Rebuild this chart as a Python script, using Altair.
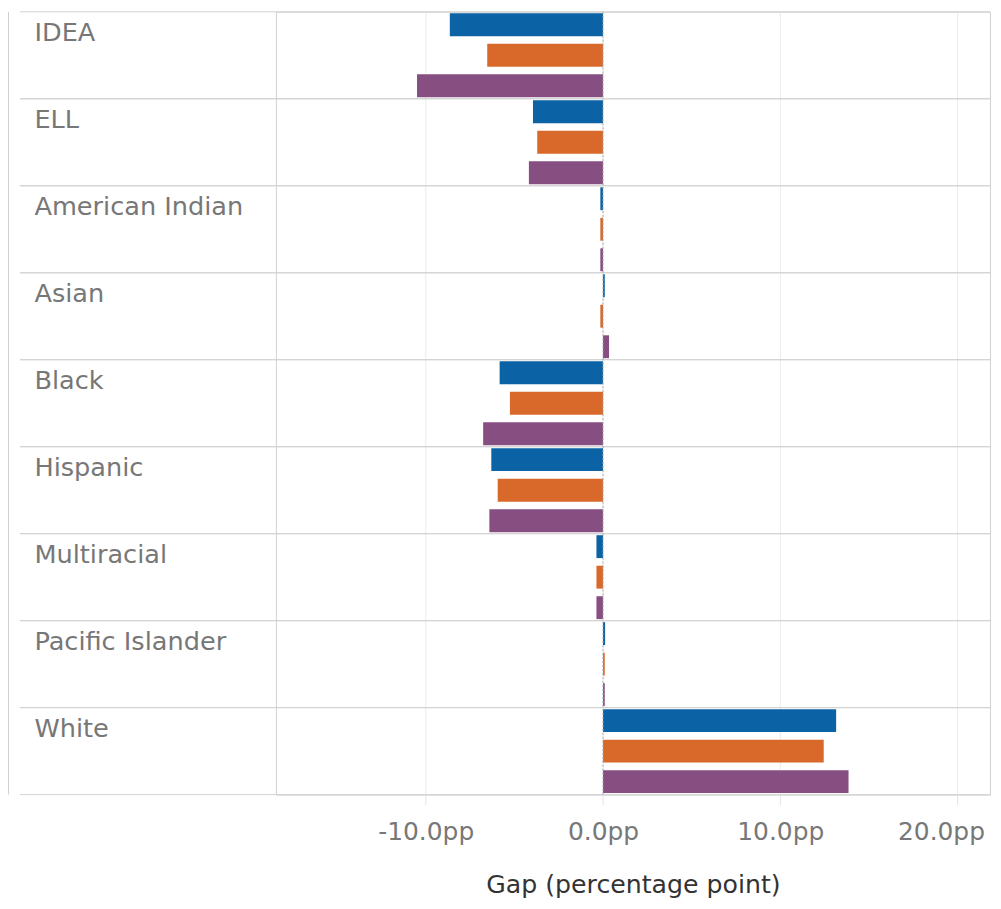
import altair as alt
import pandas as pd

# ---------------- data ----------------
groups = ["IDEA", "ELL", "American Indian", "Asian", "Black", "Hispanic",
          "Multiracial", "Pacific Islander", "White"]
series = ["Series A", "Series B", "Series C"]
gap_a = [-8.64, -3.95, -0.15, 0.10, -5.83, -6.30, -0.37, 0.12, 13.15]
gap_b = [-6.53, -3.71, -0.15, -0.15, -5.25, -5.94, -0.37, 0.10, 12.45]
gap_c = [-10.49, -4.18, -0.15, 0.34, -6.76, -6.41, -0.37, 0.10, 13.85]
series_colors = ["#0b62a4", "#d8692a", "#874e81"]
x_ticks = [-10, 0, 10, 20]
x_domain = [-18.45, 21.83]
x_title = "Gap (percentage point)"

rows = []
for s, vals in zip(series, [gap_a, gap_b, gap_c]):
    for g, v in zip(groups, vals):
        rows.append({"Group": g, "Series": s, "Gap": v})
df = pd.DataFrame(rows)
df_groups = pd.DataFrame({"Group": groups})
df_zero = pd.DataFrame({"Zero": [0]})

# ---------------- style ----------------
W, H = 717, 786
LINE = "#d2d2d2"
FONT = "DejaVu Sans"

y_scale = alt.Scale(domain=groups, paddingInner=0, paddingOuter=0)
y_axis = alt.Axis(title=None, domain=False, ticks=False, grid=False,
                  labelAlign="left", labelBaseline="alphabetic",
                  labelPadding=243, labelOffset=-14, labelFont=FONT,
                  labelFontSize=25.7, labelColor="#777777", labelLimit=260)

x_scale = alt.Scale(domain=x_domain, nice=False, zero=False)
x_axis = alt.Axis(values=x_ticks,
                  labelExpr="(datum.value < 0 ? '-' : '') + format(abs(datum.value), '.1f') + 'pp'",
                  grid=True, gridColor="#ebebeb", domain=False,
                  ticks=True, tickColor="#e3e3e3", tickSize=10,
                  labelFont=FONT, labelFontSize=25, labelColor="#777777",
                  labelBaseline="alphabetic", labelPadding=35,
                  labelFlush=40, labelFlushOffset=27,
                  title=x_title, titleFont=FONT, titleFontSize=25.3,
                  titleFontWeight="normal", titleColor="#333333",
                  titleBaseline="alphabetic", titleY=98)

row_top = alt.Chart(df_groups).mark_rule(color=LINE, strokeWidth=1).encode(
    y=alt.Y("Group:N", sort=groups, scale=y_scale, axis=y_axis, bandPosition=0),
    x=alt.value(-257), x2=alt.value(W),
)
row_bottom = alt.Chart(df_groups).mark_rule(color=LINE, strokeWidth=1).encode(
    y=alt.Y("Group:N", sort=groups, scale=y_scale, axis=y_axis, bandPosition=1),
    x=alt.value(-257), x2=alt.value(W),
)
left_edge = alt.Chart(df_zero).mark_rule(color=LINE, strokeWidth=1).encode(
    x=alt.value(-268.5), y=alt.value(0), y2=alt.value(H),
)

bars = alt.Chart(df).mark_bar().encode(
    x=alt.X("Gap:Q", scale=x_scale, axis=x_axis),
    y=alt.Y("Group:N", sort=groups, scale=y_scale, axis=y_axis),
    yOffset=alt.YOffset("Series:N", sort=series,
                        scale=alt.Scale(domain=series, paddingInner=0.25, paddingOuter=0.05)),
    color=alt.Color("Series:N", scale=alt.Scale(domain=series, range=series_colors), legend=None),
)

zero_line = alt.Chart(df_zero).mark_rule(color="#a8a8a8", strokeDash=[2, 2], strokeWidth=1).encode(
    x=alt.X("Zero:Q", scale=x_scale, axis=x_axis),
)

chart = alt.layer(row_top, row_bottom, left_edge, bars, zero_line).properties(
    width=W, height=H,
    autosize=alt.AutoSizeParams(type="none"),
    padding={"left": 269, "top": 2, "right": 3, "bottom": 104},
).configure_view(stroke=LINE, strokeWidth=1)

chart.save("out.html", embed_options={"renderer": "svg", "actions": False})
